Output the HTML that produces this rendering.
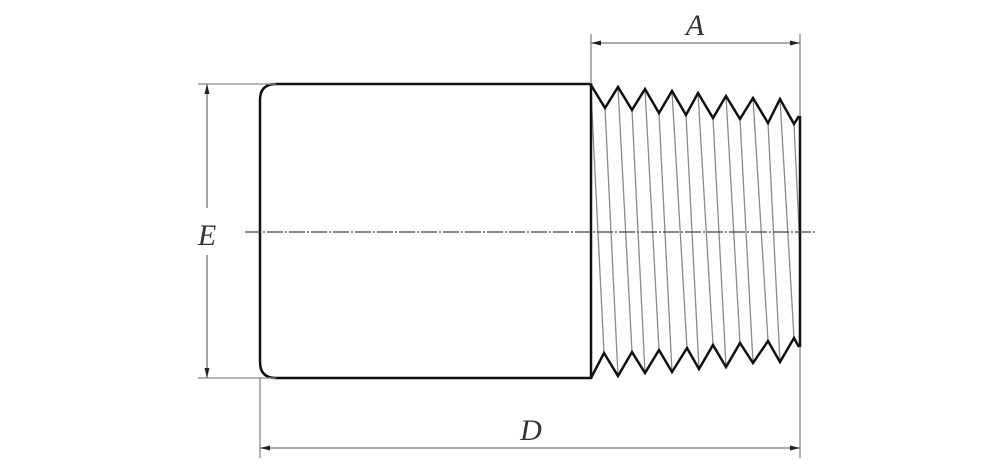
<!DOCTYPE html>
<html><head><meta charset="utf-8"><style>
html,body{margin:0;padding:0;background:#fff;}
svg{display:block;}
text{font-family:"Liberation Serif",serif;font-style:italic;fill:#333;}
</style></head><body>
<svg width="1000" height="468" viewBox="0 0 1000 468" xmlns="http://www.w3.org/2000/svg">
<defs>
<marker id="ar" viewBox="0 0 10 6" refX="10" refY="3" markerWidth="10" markerHeight="6" orient="auto-start-reverse" markerUnits="userSpaceOnUse">
<path d="M0,0.5 L10,3 L0,5.5 Z" fill="#222"/>
</marker>
</defs>
<!-- helix lines -->
<g stroke="#8a8a8a" stroke-width="1.3">
<line x1="591" y1="92" x2="604" y2="353"/>
<line x1="605" y1="108" x2="618" y2="376"/>
<line x1="618" y1="87" x2="632" y2="352"/>
<line x1="632" y1="110" x2="645" y2="373"/>
<line x1="645" y1="89" x2="659" y2="350"/>
<line x1="659" y1="113" x2="672" y2="372"/>
<line x1="672" y1="91" x2="687" y2="348"/>
<line x1="686" y1="115" x2="699" y2="369"/>
<line x1="698" y1="93" x2="713" y2="345"/>
<line x1="713" y1="118" x2="726" y2="367"/>
<line x1="726" y1="96" x2="740" y2="343"/>
<line x1="740" y1="119" x2="753" y2="363"/>
<line x1="753" y1="98" x2="768" y2="341"/>
<line x1="768" y1="123" x2="780" y2="362"/>
<line x1="780" y1="99" x2="794" y2="338"/>
<line x1="794" y1="124" x2="800" y2="250"/>
</g>
<!-- body -->
<path d="M591,84 L276,84 Q260,84 260,100 L260,362 Q260,378 276,378 L591,378 Z" fill="none" stroke="#111" stroke-width="2.5"/>
<!-- threads -->
<polyline fill="none" stroke="#111" stroke-width="2.5" stroke-linejoin="miter"
points="591,85 605,108 618,87 632,110 645,89 659,113 672,91 686,115 698,93 713,118 726,96 740,119 753,98 768,123 780,99 794,124 799,116"/>
<polyline fill="none" stroke="#111" stroke-width="2.5"
points="591,378 604,353 618,376 632,352 645,373 659,350 672,372 687,348 699,369 713,345 726,367 740,343 753,363 768,341 780,362 794,338 799,347"/>
<line x1="800" y1="116" x2="800" y2="347" stroke="#111" stroke-width="2.5"/>
<!-- centerline -->
<line x1="245" y1="232" x2="815" y2="232" stroke="#444" stroke-width="1.3" stroke-dasharray="16,2,2,2"/>
<!-- dimension lines -->
<g stroke="#888" stroke-width="1.3">
<line x1="591" y1="34" x2="591" y2="84"/>
<line x1="800" y1="34" x2="800" y2="116"/>
<line x1="198" y1="84" x2="276" y2="84"/>
<line x1="198" y1="378" x2="276" y2="378"/>
<line x1="260" y1="378" x2="260" y2="458"/>
<line x1="800" y1="347" x2="800" y2="458"/>
</g>
<g stroke="#777" stroke-width="1.3">
<line x1="591" y1="43" x2="800" y2="43" marker-start="url(#ar)" marker-end="url(#ar)"/>
<line x1="260" y1="448" x2="800" y2="448" marker-start="url(#ar)" marker-end="url(#ar)"/>
<line x1="207" y1="84" x2="207" y2="208" marker-start="url(#ar)"/>
<line x1="207" y1="255" x2="207" y2="378" marker-end="url(#ar)"/>
</g>
<text x="695" y="35" font-size="30" text-anchor="middle">A</text>
<text x="207" y="245" font-size="30" text-anchor="middle">E</text>
<text x="531" y="440" font-size="30" text-anchor="middle">D</text>
</svg>
</body></html>
